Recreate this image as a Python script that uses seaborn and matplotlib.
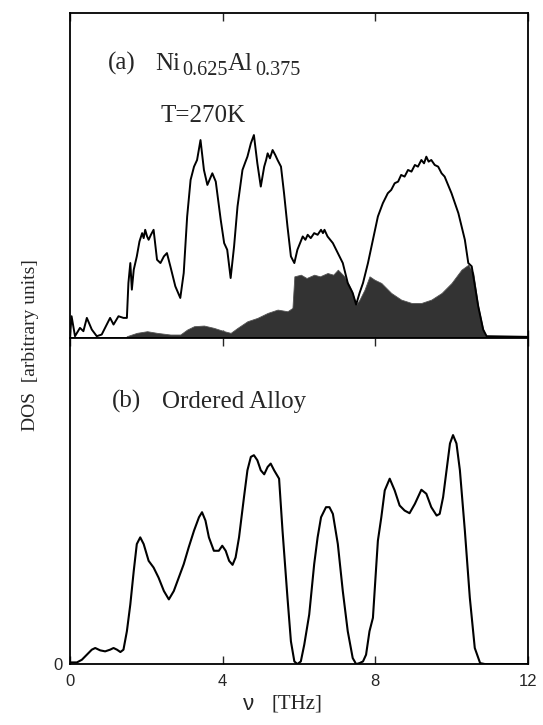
import numpy as np
import matplotlib
matplotlib.use('Agg')
import matplotlib.pyplot as plt
import seaborn as sns

# (a) Ni0.625Al0.375 at T=270K: total DOS (line) and partial DOS (filled)
nu_a = [0.00, 0.04, 0.13, 0.26, 0.35, 0.44, 0.57, 0.70, 0.83, 1.05, 1.14, 1.27, 1.40, 1.49,
        1.53, 1.58, 1.62, 1.67, 1.75, 1.82, 1.89, 1.93, 1.97, 2.02, 2.06, 2.12, 2.19, 2.28,
        2.37, 2.46, 2.54, 2.63, 2.76, 2.89, 2.98, 3.07, 3.16, 3.25, 3.33, 3.42, 3.51, 3.60,
        3.73, 3.82, 3.95, 4.04, 4.12, 4.21, 4.30, 4.39, 4.52, 4.60, 4.65, 4.74, 4.82, 4.91,
        5.00, 5.09, 5.14, 5.18, 5.24, 5.31, 5.38, 5.44, 5.53, 5.61, 5.70, 5.79, 5.88, 5.96,
        6.10, 6.17, 6.23, 6.31, 6.40, 6.49, 6.58, 6.63, 6.67, 6.75, 6.89, 7.02, 7.15, 7.28,
        7.41, 7.50, 7.59, 7.68, 7.81, 7.94, 8.07, 8.20, 8.33, 8.42, 8.51, 8.60, 8.68, 8.77,
        8.86, 8.95, 9.04, 9.12, 9.21, 9.28, 9.34, 9.40, 9.47, 9.56, 9.65, 9.74, 9.82, 9.91,
        10.00, 10.18, 10.35, 10.44, 10.53, 10.70, 10.83, 10.92, 12.00]
dos_a = [0.5, 6.5, 0.5, 3.0, 2.0, 6.0, 2.5, 0.5, 1.0, 6.0, 4.0, 6.5, 6.0, 6.0,
         16.5, 22.5, 14.5, 20.5, 24.5, 29.0, 31.5, 30.0, 32.5, 30.5, 29.5, 31.0, 32.5, 23.5,
         22.5, 24.5, 25.5, 21.5, 15.5, 12.0, 19.5, 36.5, 47.5, 51.5, 53.5, 59.5, 50.5, 46.0,
         49.5, 47.0, 35.5, 28.5, 26.5, 18.0, 27.5, 39.5, 50.5, 53.0, 54.5, 58.5, 61.0, 52.5,
         45.5, 51.5, 53.5, 55.5, 54.0, 56.5, 55.0, 53.5, 51.5, 43.5, 33.5, 24.5, 22.5, 26.5,
         30.5, 29.5, 31.0, 30.0, 31.5, 31.0, 32.5, 31.5, 32.5, 30.5, 28.5, 25.5, 22.5, 16.5,
         13.5, 10.0, 13.5, 16.5, 22.5, 29.5, 36.5, 40.5, 43.5, 44.5, 46.5, 47.0, 49.0, 48.5,
         50.5, 50.0, 52.0, 51.5, 53.5, 52.5, 54.5, 53.0, 53.5, 52.0, 51.5, 49.5, 48.5, 46.0,
         43.5, 37.5, 29.5, 22.5, 21.5, 9.5, 2.5, 0.5, 0.3]

nu_part = [0.00, 1.45, 1.49, 1.75, 2.02, 2.28, 2.63, 2.89, 3.07, 3.25, 3.51, 3.77, 4.04, 4.21,
           4.39, 4.65, 4.91, 5.18, 5.44, 5.70, 5.83, 5.88, 6.05, 6.20, 6.40, 6.55, 6.75, 6.90,
           7.02, 7.19, 7.37, 7.50, 7.59, 7.72, 7.85, 7.98, 8.16, 8.42, 8.68, 8.95, 9.21, 9.47,
           9.74, 10.00, 10.26, 10.44, 10.57, 10.70, 10.83, 10.92, 12.00]
dos_part = [0.0, 0.0, 0.5, 1.5, 2.0, 1.5, 1.0, 1.0, 2.5, 3.5, 3.7, 3.0, 2.0, 1.5,
            3.0, 5.0, 6.0, 7.5, 8.5, 8.0, 9.0, 18.5, 19.0, 18.0, 19.0, 18.5, 19.5, 19.0,
            20.5, 18.5, 14.5, 10.0, 11.5, 14.5, 18.5, 17.5, 16.5, 13.5, 11.5, 10.5, 10.5, 11.5,
            13.5, 16.5, 20.5, 22.0, 19.5, 9.5, 2.5, 0.0, 0.0]

# (b) ordered alloy
nu_b = [0.00, 0.18, 0.31, 0.44, 0.57, 0.66, 0.79, 0.92, 1.05, 1.14, 1.23, 1.32, 1.40, 1.49,
        1.58, 1.67, 1.75, 1.84, 1.93, 2.06, 2.19, 2.32, 2.46, 2.59, 2.72, 2.85, 2.98, 3.11,
        3.25, 3.38, 3.46, 3.55, 3.64, 3.77, 3.90, 3.99, 4.08, 4.17, 4.26, 4.34, 4.43, 4.56,
        4.65, 4.74, 4.82, 4.91, 5.00, 5.09, 5.18, 5.26, 5.35, 5.48, 5.57, 5.70, 5.79, 5.88,
        5.96, 6.05, 6.14, 6.27, 6.40, 6.49, 6.58, 6.71, 6.80, 6.89, 7.02, 7.15, 7.28, 7.41,
        7.50, 7.59, 7.68, 7.76, 7.85, 7.94, 8.03, 8.07, 8.16, 8.25, 8.38, 8.51, 8.64, 8.77,
        8.90, 9.04, 9.21, 9.34, 9.47, 9.61, 9.69, 9.78, 9.87, 9.96, 10.04, 10.13, 10.22,
        10.35, 10.48, 10.61, 10.75, 10.88, 12.00]
dos_b = [0.5, 0.5, 1.3, 2.8, 4.3, 4.8, 4.1, 3.8, 4.3, 4.8, 4.3, 3.6, 4.3, 9.8,
         17.8, 27.8, 35.8, 37.8, 35.8, 30.8, 28.8, 25.8, 21.8, 19.3, 21.8, 25.8, 29.8, 34.8,
         39.8, 43.8, 45.3, 42.8, 37.8, 33.8, 33.8, 35.3, 33.8, 30.8, 29.6, 31.8, 37.8, 49.8,
         57.8, 61.8, 62.3, 60.8, 57.8, 56.6, 58.8, 59.8, 57.8, 55.3, 39.8, 19.8, 6.8, 0.8,
         0.0, 0.8, 5.8, 14.8, 29.8, 37.8, 43.8, 46.8, 46.8, 44.8, 35.8, 21.8, 9.8, 1.8,
         0.0, 0.3, 0.8, 2.8, 9.8, 13.8, 29.8, 36.8, 43.8, 51.8, 55.3, 51.8, 47.3, 45.8,
         45.0, 47.8, 52.0, 50.8, 46.8, 44.3, 44.8, 49.8, 57.8, 65.8, 68.3, 65.8, 57.8,
         39.8, 19.8, 4.8, 0.3, 0.0, 0.0]

xticks = [0, 4, 8, 12]

sns.set_style('ticks')
plt.rcParams['font.family'] = ['Liberation Serif', 'DejaVu Serif']

fig = plt.figure(figsize=(5.43, 7.25), dpi=100)
ax_a = fig.add_axes([0.129, 0.534, 0.843, 0.448])
ax_b = fig.add_axes([0.129, 0.084, 0.843, 0.450])

ax_a.fill_between(nu_part, dos_part, color='#333333', lw=0.6, edgecolor='#555555')
sns.lineplot(x=nu_a, y=dos_a, ax=ax_a, color='black', lw=1.4, sort=False, estimator=None)
sns.lineplot(x=nu_b, y=dos_b, ax=ax_b, color='black', lw=1.5, sort=False, estimator=None)

ax_a.set_ylim(0, 97.7)
ax_b.set_ylim(0, 97.3)

for ax in (ax_a, ax_b):
    ax.set_xlim(0, 12)
    ax.set_xlabel('')
    ax.set_ylabel('')
    for s in ax.spines.values():
        s.set_linewidth(1.3)
        s.set_color('black')
    ax.set_xticks(xticks)
    ax.tick_params(axis='x', direction='in', top=True, bottom=True, length=6, width=1.0)

ax_a.set_xticklabels([])
ax_a.set_yticks([])
ax_b.set_yticks([0])
ax_b.set_yticklabels(['0'], fontfamily='Liberation Sans', fontsize=12)
ax_b.tick_params(axis='y', length=0, pad=5)
ax_b.set_xticklabels([str(t) for t in xticks], fontfamily='Liberation Sans', fontsize=12)
ax_b.tick_params(axis='x', pad=7)

# panel annotations (subscripts set as separate, slightly smaller pieces)
kw = dict(transform=ax_a.transAxes, va='baseline')
ax_a.text(0.083, 0.825, '(a)', fontsize=18, **kw)
ax_a.text(0.186, 0.825, 'Ni', fontsize=18, **kw)
ax_a.text(0.245, 0.809, '0.625', fontsize=14.5, **kw)
ax_a.text(0.345, 0.825, 'Al', fontsize=18, **kw)
ax_a.text(0.405, 0.809, '0.375', fontsize=14.5, **kw)
ax_a.text(0.197, 0.665, 'T=270K', fontsize=18, **kw)
ax_b.text(0.092, 0.785, '(b)', transform=ax_b.transAxes, fontsize=18, va='baseline')
ax_b.text(0.200, 0.785, 'Ordered Alloy', transform=ax_b.transAxes, fontsize=18, va='baseline')

fig.text(31 / 543, 1 - 345 / 725, 'DOS  [arbitrary units]', rotation=90, ha='center',
         va='center', fontsize=14)
fig.text(249 / 543, 1 - 704 / 725, 'ν', ha='center', va='center', fontsize=16,
         family=['Liberation Sans', 'DejaVu Sans'])
fig.text(297 / 543, 1 - 704 / 725, '[THz]', ha='center', va='center', fontsize=15)

fig.savefig('out.png', dpi=100)
